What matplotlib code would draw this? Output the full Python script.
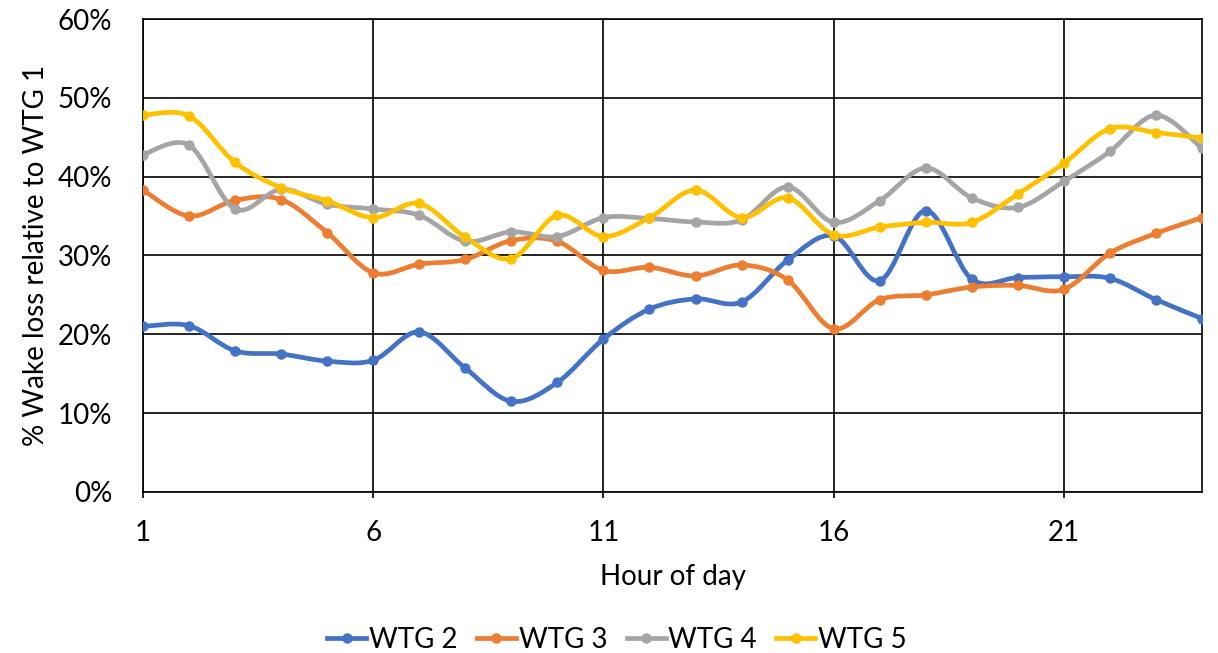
import numpy as np
import matplotlib
matplotlib.use("Agg")
import matplotlib.pyplot as plt
from matplotlib.path import Path
from matplotlib.patches import PathPatch
from matplotlib.lines import Line2D
from matplotlib.ticker import PercentFormatter

plt.rcParams['font.family'] = ['Lato', 'DejaVu Sans']

hours = list(range(1, 25))
wtg2 = [21.0, 21.1, 17.9, 17.5, 16.6, 16.7, 20.3, 15.7, 11.5, 13.9, 19.4, 23.2,
        24.5, 24.1, 29.4, 32.5, 26.8, 35.7, 27.0, 27.2, 27.3, 27.1, 24.4, 22.0]
wtg3 = [38.3, 35.0, 37.0, 37.1, 32.9, 27.8, 28.9, 29.5, 31.9, 31.8, 28.1, 28.5,
        27.4, 28.8, 26.9, 20.7, 24.4, 25.0, 26.0, 26.2, 25.7, 30.3, 32.8, 34.8]
wtg4 = [42.8, 44.0, 35.9, 38.4, 36.5, 35.9, 35.1, 31.8, 33.0, 32.4, 34.8, 34.7,
        34.25, 34.5, 38.7, 34.2, 36.95, 41.1, 37.3, 36.1, 39.4, 43.2, 47.8, 43.6]
wtg5 = [47.8, 47.7, 41.8, 38.6, 36.95, 34.8, 36.6, 32.3, 29.6, 35.1, 32.4, 34.8,
        38.3, 34.8, 37.3, 32.6, 33.6, 34.2, 34.2, 37.8, 41.7, 46.1, 45.6, 44.9]

series = [("WTG 2", wtg2, "#4472C4"),
          ("WTG 3", wtg3, "#ED7D31"),
          ("WTG 4", wtg4, "#A5A5A5"),
          ("WTG 5", wtg5, "#FFC000")]


def smooth_path(x, y, t=1.0 / 6):
    # Excel-like smoothed line: cubic bezier through every point
    pts = np.column_stack([x, y]).astype(float)
    n = len(pts)
    verts = [pts[0]]
    codes = [Path.MOVETO]
    for i in range(n - 1):
        p0 = pts[max(i - 1, 0)]
        p1 = pts[i]
        p2 = pts[i + 1]
        p3 = pts[min(i + 2, n - 1)]
        c1 = p1 + (p2 - p0) * t
        c2 = p2 - (p3 - p1) * t
        verts += [c1, c2, p2]
        codes += [Path.CURVE4] * 3
    return Path(verts, codes)


fig = plt.figure(figsize=(12.18, 6.53), dpi=100)
ax = fig.add_axes([0.1174, 0.2466, 0.8695, 0.7243])

handles = []
for name, vals, col in series:
    patch = PathPatch(smooth_path(hours, vals), facecolor='none', edgecolor=col,
                      lw=3.4, capstyle='round', joinstyle='round', zorder=3)
    ax.add_patch(patch)
    ax.plot(hours, vals, 'o', color=col, ms=6.5, zorder=4)
    handles.append(Line2D([], [], color=col, lw=3.4, marker='o', ms=6.5))

ax.set_xlim(1, 24)
ax.set_ylim(0, 60)
ax.set_xticks([1, 6, 11, 16, 21])
ax.set_yticks(np.arange(0, 61, 10))
ax.yaxis.set_major_formatter(PercentFormatter(decimals=0))
ax.grid(True, color='black', lw=1.2)
ax.set_axisbelow(True)
for s in ax.spines.values():
    s.set_color('black')
    s.set_linewidth(1.2)
ax.tick_params(axis='x', length=4, width=1.2, pad=16, labelsize=20)
ax.tick_params(axis='y', length=0, pad=22, labelsize=20)

ax.set_xlabel("Hour of day", fontsize=20)
ax.xaxis.set_label_coords(0.5, -0.152)
ax.set_ylabel("% Wake loss relative to WTG 1", fontsize=20)
ax.yaxis.set_label_coords(-0.089, 0.5)

fig.legend(handles, [s[0] for s in series], loc='center',
           bbox_to_anchor=(0.5066, 0.02), ncol=4, frameon=False, fontsize=20,
           handlelength=1.4, handletextpad=0.1, columnspacing=0.7,
           borderpad=0)

fig.savefig("out.png", dpi=100)
